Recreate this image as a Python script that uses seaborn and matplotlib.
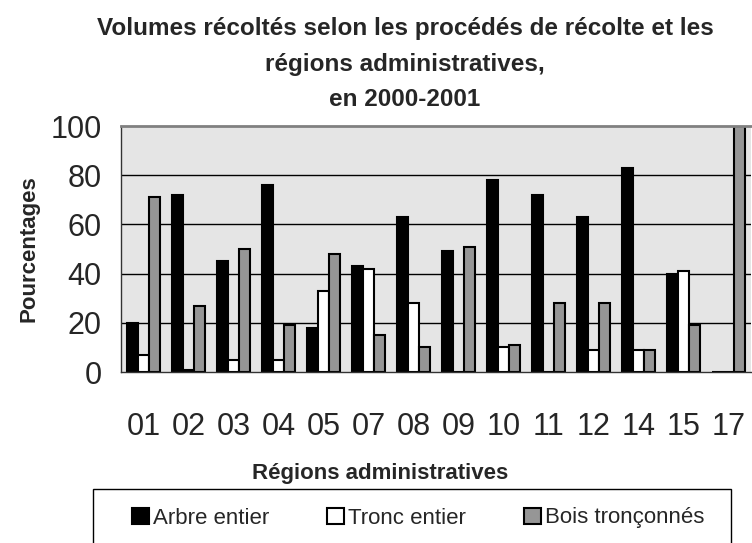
import matplotlib
matplotlib.use("Agg")
import matplotlib.pyplot as plt
import matplotlib.patches as mpatches
from matplotlib import font_manager
import seaborn as sns
import pandas as pd

regions = ["01", "02", "03", "04", "05", "07", "08", "09", "10", "11", "12", "14", "15", "17"]
arbre_entier = [20, 72, 45, 76, 18, 43, 63, 49, 78, 72, 63, 83, 40, 0]
tronc_entier = [7, 1, 5, 5, 33, 42, 28, 0, 10, 0, 9, 9, 41, 0]
bois_tronconnes = [71, 27, 50, 19, 48, 15, 10, 51, 11, 28, 28, 9, 19, 100]
series = ["Arbre entier", "Tronc entier", "Bois tronçonnés"]
colors = ["#000000", "#ffffff", "#969696"]

sns.set_style("white")
names = [f.name for f in font_manager.fontManager.ttflist]
narrow = "Liberation Sans Narrow" if "Liberation Sans Narrow" in names else "Liberation Sans"
plt.rcParams["font.family"] = [narrow, "DejaVu Sans"]

df = pd.DataFrame({
    "Région": regions * 3,
    "Procédé": [series[0]] * 14 + [series[1]] * 14 + [series[2]] * 14,
    "Pourcentage": arbre_entier + tronc_entier + bois_tronconnes,
})

fig = plt.figure(figsize=(7.52, 5.43), dpi=100)
ax = fig.add_axes([121 / 752, 1 - 372 / 543, 630 / 752, 246 / 543])
ax.set_facecolor("#e5e5e5")

sns.barplot(data=df, x="Région", y="Pourcentage", hue="Procédé", order=regions,
            hue_order=series, palette=colors, edgecolor="black", linewidth=1.5,
            width=0.73, saturation=1, legend=False, ax=ax)

ax.set_ylim(0, 100)
ax.set_xlim(-0.5, len(regions) - 0.5)
ax.set_yticks([0, 20, 40, 60, 80, 100])
for y in [20, 40, 60, 80]:
    ax.axhline(y, color="black", lw=1, zorder=0.5)

# ticks at category boundaries, labels at centres
ax.set_xticks([i - 0.5 for i in range(len(regions) + 1)])
ax.set_xticklabels([])
ax.set_xticks(range(len(regions)), minor=True)
ax.set_xticklabels(regions, minor=True, fontsize=22)
ax.tick_params(axis="x", which="major", direction="out", length=9, width=1, color="#333333")
ax.tick_params(axis="x", which="minor", length=0, pad=29)
ax.tick_params(axis="y", direction="out", length=8, width=1, color="#333333", labelsize=22, pad=6)
ax.set_xlabel("")
ax.set_ylabel("Pourcentages", fontsize=16, fontweight="bold", labelpad=8)

for s in ["left", "bottom"]:
    ax.spines[s].set_color("#333333")
    ax.spines[s].set_linewidth(1)
ax.spines["top"].set_color("#808080")
ax.spines["top"].set_linewidth(2)
ax.spines["right"].set_visible(False)

fig.text(405 / 752, 1 - 29 / 543, "Volumes récoltés selon les procédés de récolte et les",
         ha="center", va="center", fontsize=17.5, fontweight="bold")
fig.text(405 / 752, 1 - 64 / 543, "régions administratives,",
         ha="center", va="center", fontsize=17.5, fontweight="bold")
fig.text(405 / 752, 1 - 100 / 543, "en 2000-2001",
         ha="center", va="center", fontsize=17.5, fontweight="bold")
fig.text(380 / 752, 1 - 473 / 543, "Régions administratives",
         ha="center", va="center", fontsize=16, fontweight="bold")

# legend box
fig.patches.append(mpatches.Rectangle((93 / 752, -0.05), 638 / 752, 0.05 + (543 - 489) / 543,
                                      transform=fig.transFigure, facecolor="white",
                                      edgecolor="black", lw=1))
handles = [mpatches.Patch(facecolor=c, edgecolor="black", lw=1.5) for c in colors]
fig.legend(handles, series, loc="center left", bbox_to_anchor=(112 / 752, 1 - 518 / 543),
           ncol=3, frameon=False, fontsize=16, handlelength=0.75, handleheight=0.75,
           handletextpad=0.2, columnspacing=2.6)

fig.savefig("out.png", dpi=100)
